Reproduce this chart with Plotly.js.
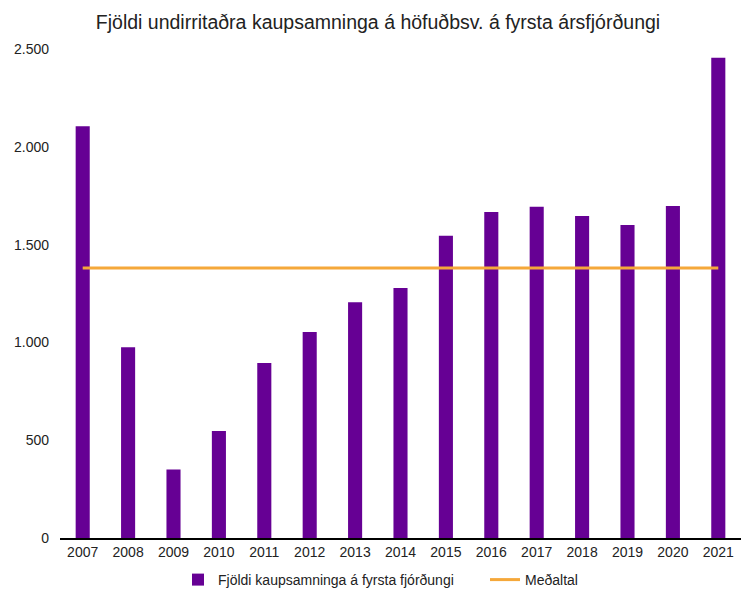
<!DOCTYPE html>
<html>
<head>
<meta charset="utf-8">
<script src="https://cdn.plot.ly/plotly-3.0.1.min.js"></script>
<style>html,body{margin:0;padding:0;background:#fff;}#chart{width:756px;height:605px;}</style>
</head>
<body>
<div id="chart"></div>
<script>
const years = ['2007','2008','2009','2010','2011','2012','2013','2014','2015','2016','2017','2018','2019','2020','2021'];
const contracts = [2105, 975, 350, 547, 895, 1053, 1205, 1278, 1545, 1667, 1693, 1646, 1600, 1697, 2455];
const average = [1380, 1380, 1380, 1380, 1380, 1380, 1380, 1380, 1380, 1380, 1380, 1380, 1380, 1380, 1380];
const yTicks = [0, 500, 1000, 1500, 2000, 2500];

const fontFam = 'Liberation Sans, Arial, sans-serif';

const traces = [
  {
    type: 'bar', x: years, y: contracts,
    name: 'Fjöldi kaupsamninga á fyrsta fjórðungi',
    marker: {color: '#660094'}
  },
  {
    type: 'scatter', mode: 'lines', x: years, y: average,
    name: 'Meðaltal',
    line: {color: '#F5A83A', width: 3}
  }
];

const layout = {
  width: 756, height: 605,
  margin: {l: 60, r: 15, t: 49, b: 67},
  paper_bgcolor: '#fff', plot_bgcolor: '#fff',
  separators: ',.',
  font: {family: fontFam, size: 14, color: '#222'},
  title: {
    text: 'Fjöldi undirritaðra kaupsamninga á höfuðbsv. á fyrsta ársfjórðungi',
    font: {family: fontFam, size: 19.5, color: '#222'},
    x: 0.5, xref: 'container', xanchor: 'center',
    y: 1 - 22/605, yref: 'container', yanchor: 'middle'
  },
  bargap: 0.69,
  xaxis: {
    type: 'category',
    showgrid: false, zeroline: false,
    showline: true, linecolor: '#000', linewidth: 2,
    ticks: '', tickfont: {size: 14, color: '#222'}
  },
  yaxis: {
    range: [0, 2500], tickvals: yTicks, tickformat: ',d',
    showgrid: false, zeroline: false, showline: false,
    ticks: '', ticklabelstandoff: 10,
    tickfont: {size: 14, color: '#222'}
  },
  showlegend: true,
  legend: {
    orientation: 'h', xref: 'container', x: 178/756, xanchor: 'left',
    yref: 'container', y: 1 - 580/605, yanchor: 'middle',
    font: {size: 14, color: '#222'}, itemwidth: 30, tracegroupgap: 0,
    entrywidth: 262, entrywidthmode: 'pixels'
  }
};

Plotly.newPlot('chart', traces, layout, {displayModeBar: false, staticPlot: true});
</script>
</body>
</html>
